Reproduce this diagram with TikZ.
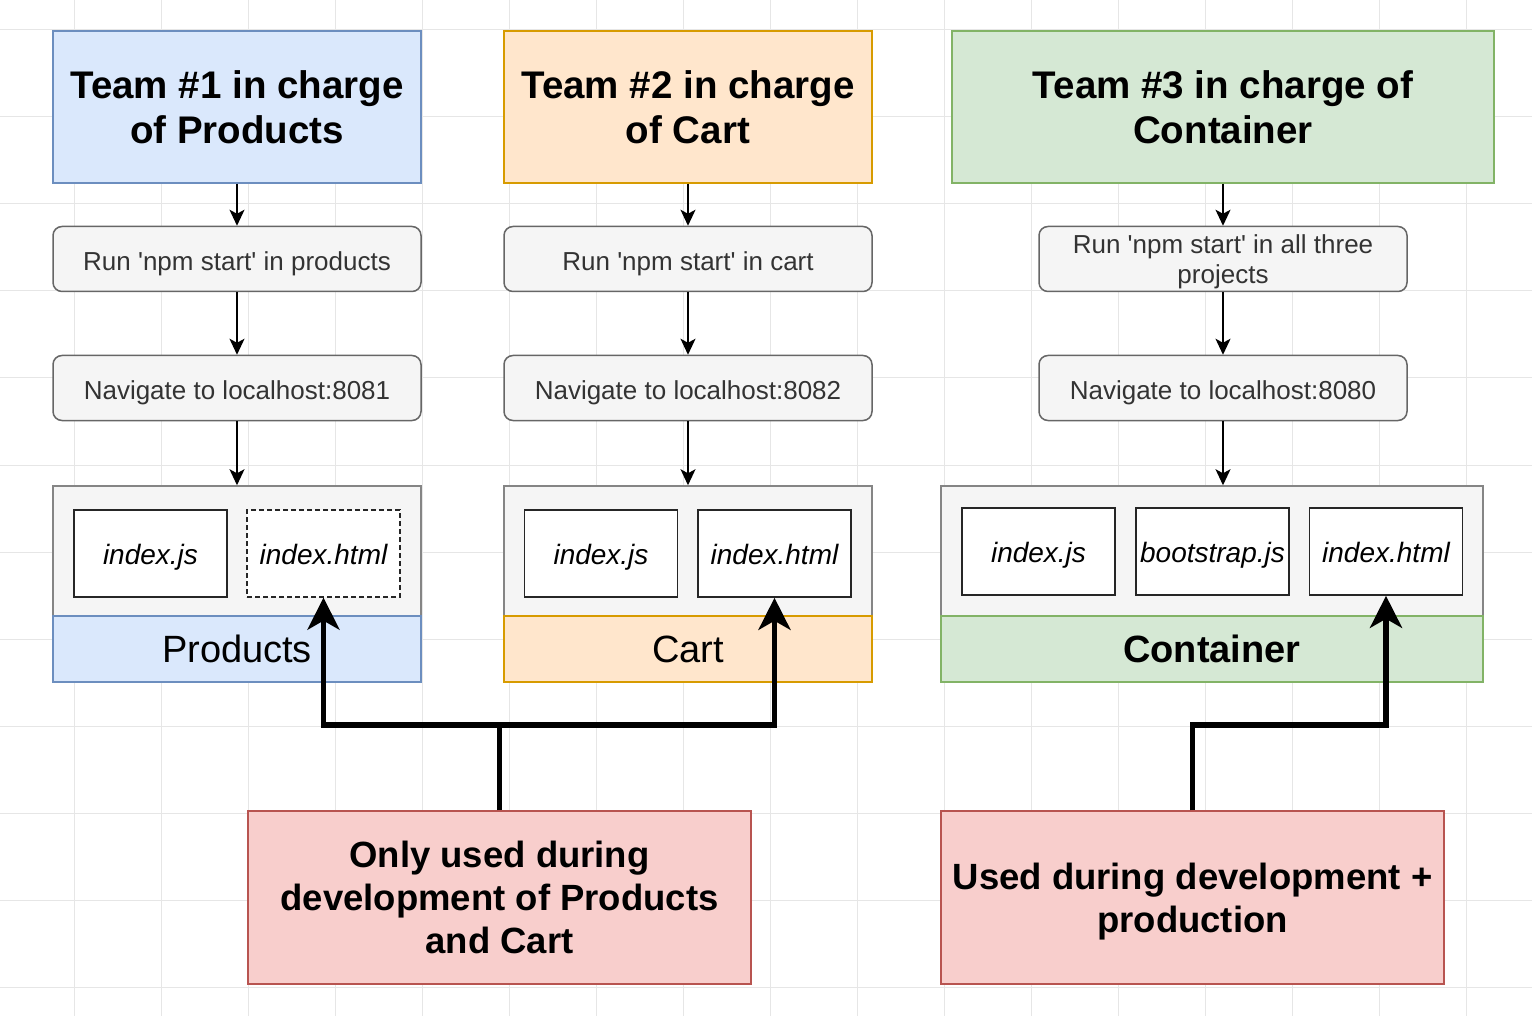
\documentclass[tikz,border=0pt]{standalone}
\usepackage{fontspec}
\setmainfont{Liberation Sans}
\usetikzlibrary{arrows.meta}

\definecolor{prodfill}{HTML}{DAE8FC}
\definecolor{proddraw}{HTML}{6C8EBF}
\definecolor{cartfill}{HTML}{FFE6CC}
\definecolor{cartdraw}{HTML}{D79B00}
\definecolor{contfill}{HTML}{D5E8D4}
\definecolor{contdraw}{HTML}{82B366}
\definecolor{notefill}{HTML}{F8CECC}
\definecolor{notedraw}{HTML}{B85450}
\definecolor{stepfill}{HTML}{F5F5F5}
\definecolor{stepdraw}{HTML}{666666}
\definecolor{gridcol}{HTML}{E6E6E6}

\newcommand{\q}{\textquotesingle}

\tikzset{
  team/.style={draw, line width=1.5pt, inner sep=0pt, minimum height=152pt, align=center,
    font=\fontsize{38.5}{45}\selectfont\bfseries},
  stepbox/.style={draw=stepdraw, fill=stepfill, line width=1.5pt, rounded corners=9pt,
    inner sep=0pt, minimum width=368pt, minimum height=65pt, align=center, text=black!80,
    font=\fontsize{26}{31}\selectfont},
  oneline/.style={text height=23pt, text depth=0pt},
  bundle/.style={draw=stepdraw!80, fill=stepfill, line width=1.5pt, inner sep=0pt, minimum height=130pt},
  bundlelabel/.style={draw, line width=1.5pt, inner sep=0pt, minimum height=66pt,
    font=\fontsize{38}{45}\selectfont},
  filebox/.style={draw=black!85, fill=white, line width=1.6pt, inner sep=0pt,
    minimum width=153pt, minimum height=87pt, text height=21pt, text depth=0pt,
    font=\fontsize{28}{33}\selectfont\itshape},
  note/.style={draw=notedraw, fill=notefill, line width=1.5pt, inner sep=0pt,
    minimum width=503pt, minimum height=173pt, align=center,
    font=\fontsize{36.5}{43}\selectfont\bfseries},
  flow/.style={draw, line width=1.6pt, -{Stealth[length=16pt,width=15pt,inset=4pt]}},
  bigflow/.style={draw, line width=5.5pt, -{Stealth[length=32pt,width=32pt,inset=9pt]}},
}

\begin{document}
\begin{tikzpicture}[x=1pt,y=-1pt]
\useasboundingbox (0,0) rectangle (1532,1016);
\fill[white] (0,0) rectangle (1532,1016);
\foreach \gx in {74,161,...,1466} \draw[gridcol, line width=1pt] (\gx,0) -- (\gx,1016);
\foreach \gy in {30,117,...,987} \draw[gridcol, line width=1pt] (0,\gy) -- (1532,\gy);

% teams
\node[team, fill=prodfill, draw=proddraw, minimum width=368pt] (t1) at (237,107) {Team \#1 in charge\\of Products};
\node[team, fill=cartfill, draw=cartdraw, minimum width=368pt] (t2) at (688,107) {Team \#2 in charge\\of Cart};
\node[team, fill=contfill, draw=contdraw, minimum width=542pt] (t3) at (1223,107) {Team \#3 in charge of\\Container};

% steps
\node[stepbox, oneline] (run1) at (237,259) {Run \q npm start\q{} in products};
\node[stepbox, oneline] (run2) at (688,259) {Run \q npm start\q{} in cart};
\node[stepbox, text depth=0pt] (run3) at (1223,259) {Run \q npm start\q{} in all three\\[-1pt]projects};
\node[stepbox, oneline] (nav1) at (237,388) {Navigate to localhost:8081};
\node[stepbox, oneline] (nav2) at (688,388) {Navigate to localhost:8082};
\node[stepbox, oneline] (nav3) at (1223,388) {Navigate to localhost:8080};

% bundles
\node[bundle, minimum width=368pt] (b1) at (237,551) {};
\node[bundle, minimum width=368pt] (b2) at (688,551) {};
\node[bundle, minimum width=542pt] (b3) at (1212,551) {};
\node[bundlelabel, fill=prodfill, draw=proddraw, minimum width=368pt] (lab1) at (237,649) {Products};
\node[bundlelabel, fill=cartfill, draw=cartdraw, minimum width=368pt] (lab2) at (688,649) {Cart};
\node[bundlelabel, fill=contfill, draw=contdraw, minimum width=542pt, font=\fontsize{38}{45}\selectfont\bfseries] (lab3) at (1212,649) {Container};

% files
\node[filebox] (pjs) at (150.5,553.5) {index.js};
\node[filebox, dash pattern=on 5pt off 3pt, line width=1.3pt] (phtml) at (323.5,553.5) {index.html};
\node[filebox] (cjs) at (601,553.5) {index.js};
\node[filebox] (chtml) at (774.5,553.5) {index.html};
\node[filebox] (kjs) at (1038.5,551.5) {index.js};
\node[filebox] (kboot) at (1212.5,551.5) {bootstrap.js};
\node[filebox] (khtml) at (1386,551.5) {index.html};

% notes
\node[note] (dev) at (499.5,897.5) {Only used during\\development of Products\\and Cart};
\node[note, text depth=0pt] (prod) at (1192.5,897.5) {Used during development +\\production};

\path (t1) edge[flow] (run1);
\path (run1) edge[flow] (nav1);
\path (nav1) edge[flow] (b1);
\path (t2) edge[flow] (run2);
\path (run2) edge[flow] (nav2);
\path (nav2) edge[flow] (b2);
\path (t3) edge[flow] (run3);
\path (run3) edge[flow] (nav3);
\path (nav3.south) edge[flow] (nav3.south|-b3.north);

\coordinate (j1) at (499.5,725);
\coordinate (j2) at (1192.5,725);
\draw[bigflow] (dev.north) -- (j1) -| (phtml.south);
\draw[bigflow] (j1) -| (chtml.south);
\draw[bigflow] (prod.north) -- (j2) -| (khtml.south);
\end{tikzpicture}
\end{document}
